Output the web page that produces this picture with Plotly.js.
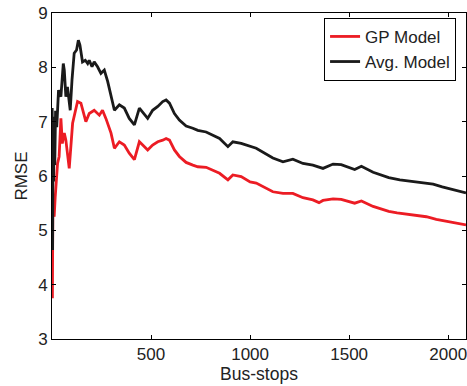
<!DOCTYPE html>
<html>
<head>
<meta charset="utf-8">
<script src="https://cdn.plot.ly/plotly-3.0.1.min.js"></script>
<style>html,body{margin:0;padding:0;background:#fff;}#chart{width:467px;height:386px;}</style>
</head>
<body>
<div id="chart"></div>
<script>
// Bus-stop index (x) and RMSE values
const avgX = [1, 3, 5, 8, 11, 14, 18, 24, 33, 45, 57, 62, 70, 78, 92, 101, 112, 124, 133, 141, 154, 168, 180, 188, 202, 213, 230, 247, 264, 281, 298, 315, 340, 365, 390, 416, 441, 458, 483, 508, 534, 559, 576, 593, 618, 643, 677, 711, 736, 778, 812, 846, 888, 913, 955, 1031, 1115, 1166, 1216, 1267, 1317, 1368, 1419, 1460, 1528, 1562, 1621, 1700, 1756, 1800, 1840, 1880, 1924, 1970, 2009, 2050, 2090];
const avgY = [7.25, 4.64, 6.6, 5.9, 7.09, 6.2, 7.2, 6.9, 7.58, 7.46, 8.07, 7.95, 7.46, 7.64, 7.21, 7.77, 8.26, 8.32, 8.50, 8.41, 8.10, 8.13, 8.07, 8.13, 8.01, 8.10, 8.01, 7.89, 7.95, 7.74, 7.46, 7.21, 7.31, 7.25, 7.06, 6.94, 7.25, 7.18, 7.06, 7.21, 7.28, 7.37, 7.40, 7.34, 7.15, 7.03, 6.92, 6.88, 6.84, 6.81, 6.75, 6.69, 6.54, 6.63, 6.60, 6.51, 6.33, 6.26, 6.31, 6.23, 6.20, 6.14, 6.22, 6.21, 6.12, 6.18, 6.07, 5.97, 5.93, 5.91, 5.90, 5.88, 5.85, 5.80, 5.76, 5.73, 5.69];
const gpX = [1, 2, 4, 8, 11, 16, 20, 28, 36, 45, 52, 62, 70, 87, 104, 118, 129, 146, 171, 188, 213, 239, 255, 272, 298, 315, 340, 365, 390, 416, 441, 458, 483, 508, 534, 559, 576, 593, 618, 643, 677, 711, 736, 778, 812, 846, 888, 913, 955, 1000, 1031, 1115, 1166, 1216, 1267, 1317, 1348, 1368, 1419, 1460, 1528, 1562, 1621, 1700, 1742, 1840, 1890, 1940, 1990, 2050, 2090];
const gpY = [4.6, 3.75, 5.25, 5.3, 5.25, 5.6, 5.8, 6.23, 6.36, 7.06, 6.6, 6.79, 6.66, 6.14, 6.97, 7.2, 7.37, 7.34, 7.00, 7.15, 7.21, 7.12, 7.21, 7.06, 6.79, 6.51, 6.63, 6.57, 6.42, 6.30, 6.63, 6.57, 6.48, 6.57, 6.63, 6.66, 6.69, 6.66, 6.48, 6.36, 6.25, 6.20, 6.17, 6.16, 6.11, 6.05, 5.93, 6.02, 5.99, 5.89, 5.87, 5.71, 5.68, 5.68, 5.60, 5.56, 5.51, 5.55, 5.58, 5.57, 5.50, 5.54, 5.44, 5.35, 5.32, 5.28, 5.25, 5.20, 5.17, 5.13, 5.10];
const seriesNames = ["GP Model", "Avg. Model"];
const xTicks = [500, 1000, 1500, 2000];
const yTicks = [3, 4, 5, 6, 7, 8, 9];

const font = "Liberation Sans, Arial, Helvetica, sans-serif";
const traces = [
  {x: gpX, y: gpY, name: seriesNames[0], mode: "lines", line: {color: "#ec1c24", width: 2.8}},
  {x: avgX, y: avgY, name: seriesNames[1], mode: "lines", line: {color: "#1a1a1a", width: 2.8}}
];
const axisCommon = {
  showline: true, mirror: "ticks", linecolor: "#000", linewidth: 1,
  ticks: "inside", ticklen: 4, tickcolor: "#000", tickwidth: 1,
  showgrid: false, zeroline: false, ticklabeloverflow: "allow",
  tickfont: {family: font, size: 17, color: "#222"}
};
const layout = {
  width: 467, height: 386,
  margin: {l: 52, r: 1, t: 13, b: 47},
  paper_bgcolor: "#fff", plot_bgcolor: "#fff",
  font: {family: font, size: 17, color: "#222"},
  xaxis: Object.assign({}, axisCommon, {
    range: [0, 2090], tickvals: xTicks, ticktext: xTicks.map(String),
    title: {text: "Bus-stops", font: {family: font, size: 17.5, color: "#222"}, standoff: 0}
  }),
  yaxis: Object.assign({}, axisCommon, {
    range: [3, 9], tickvals: yTicks, ticktext: yTicks.map(String),
    title: {text: "RMSE", font: {family: font, size: 17, color: "#222"}, standoff: 6}
  }),
  showlegend: true,
  legend: {
    x: 0.976, xanchor: "right", y: 0.985, yanchor: "top",
    bordercolor: "#000", borderwidth: 1, bgcolor: "#fff",
    font: {family: font, size: 17, color: "#222"},
    tracegroupgap: 0, itemwidth: 30
  }
};
Plotly.newPlot("chart", traces, layout, {displayModeBar: false, staticPlot: true});
</script>
</body>
</html>
